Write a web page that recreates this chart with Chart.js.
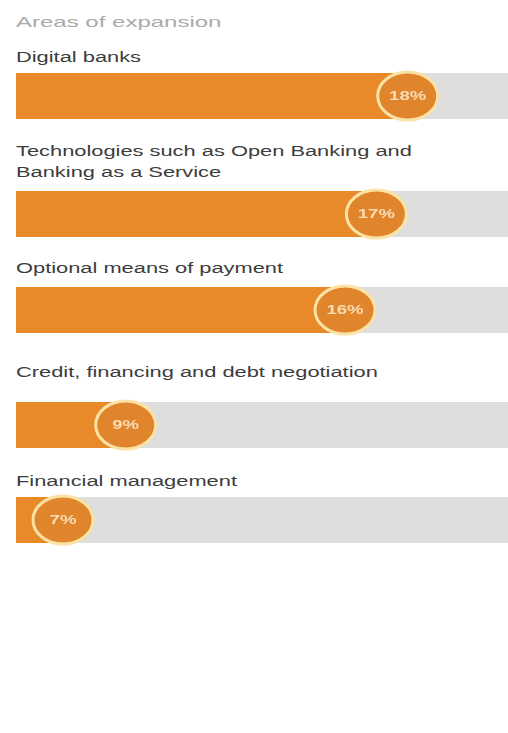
<!DOCTYPE html>
<html>
<head>
<meta charset="utf-8">
<script src="https://cdn.jsdelivr.net/npm/chart.js@4/dist/chart.umd.min.js"></script>
<style>
    html, body { margin: 0; padding: 0; background: #fff; }
    body { position: relative; width: 508px; height: 733px; overflow: hidden; font-family: 'Liberation Sans', Arial, sans-serif; }
    .title, .label {
        position: absolute;
        left: 16px;
        white-space: nowrap;
        transform-origin: 0 0;
        line-height: 21px;
    }
    .title { font-size: 15px; color: #aaaaaa; transform: scaleX(1.6); }
    .label { font-size: 14px; color: #3c3c3c; transform: scaleX(1.56); }
    .row { position: absolute; left: 0; width: 508px; height: 60px; }
</style>
</head>
<body>
<div class="title" style="top: 11px;">Areas of expansion</div>
<div id="rows"></div>

<script>
// Data
const categories = [
    ['Digital banks'],
    ['Technologies such as Open Banking and', 'Banking as a Service'],
    ['Optional means of payment'],
    ['Credit, financing and debt negotiation'],
    ['Financial management']
];
const values = [18, 17, 16, 9, 7];
const valueLabels = ['18%', '17%', '16%', '9%', '7%'];

// Layout (page px)
const labelTops = [47, 141, 258, 362, 471];
const barTops = [73, 191, 287, 402, 497];
const BAR_H = 46;
const PAD = 7;

// Shared x range so every row uses the same scale
const X_MIN = 5.5;
const X_MAX = 21.2;

const ORANGE = '#e98a2a';
const TRACK = '#dedede';
const BADGE_FILL = '#e0852c';
const BADGE_RING = '#fbe3a6';
const BADGE_TEXT = '#f9dcb4';

// Grey track behind the bar and the oval badge at its end
const badgePlugin = {
    id: 'badge',
    beforeDatasetsDraw(chart) {
        const ctx = chart.ctx;
        const bar = chart.getDatasetMeta(0).data[0];
        const { left, right } = chart.chartArea;
        ctx.save();
        ctx.fillStyle = TRACK;
        ctx.fillRect(left, bar.y - bar.height / 2, right - left, bar.height);
        ctx.restore();
    },
    afterDatasetsDraw(chart, args, opts) {
        const ctx = chart.ctx;
        const bar = chart.getDatasetMeta(0).data[0];
        ctx.save();
        ctx.beginPath();
        ctx.ellipse(bar.x, bar.y, 30, 24, 0, 0, Math.PI * 2);
        ctx.fillStyle = BADGE_FILL;
        ctx.fill();
        ctx.lineWidth = 3;
        ctx.strokeStyle = BADGE_RING;
        ctx.stroke();

        ctx.translate(bar.x, bar.y + 1);
        ctx.scale(1.55, 1);
        ctx.fillStyle = BADGE_TEXT;
        ctx.font = "bold 12px 'Liberation Sans', Arial, sans-serif";
        ctx.textAlign = 'center';
        ctx.textBaseline = 'middle';
        ctx.fillText(opts.text, 0, 0);
        ctx.restore();
    }
};

const rows = document.getElementById('rows');

categories.forEach((lines, i) => {
    // Category label above the bar
    const label = document.createElement('div');
    label.className = 'label';
    label.style.top = labelTops[i] + 'px';
    label.innerHTML = lines.join('<br>');
    rows.appendChild(label);

    // Bar canvas
    const wrap = document.createElement('div');
    wrap.className = 'row';
    wrap.style.top = (barTops[i] - PAD) + 'px';
    wrap.style.height = (BAR_H + PAD * 2) + 'px';
    const canvas = document.createElement('canvas');
    wrap.appendChild(canvas);
    rows.appendChild(wrap);

    new Chart(canvas.getContext('2d'), {
        type: 'bar',
        data: {
            labels: [lines.join(' ')],
            datasets: [{
                data: [values[i]],
                backgroundColor: ORANGE,
                borderWidth: 0,
                barPercentage: 1,
                categoryPercentage: 1
            }]
        },
        options: {
            indexAxis: 'y',
            responsive: true,
            maintainAspectRatio: false,
            animation: false,
            layout: { padding: { left: 16, right: 0, top: PAD, bottom: PAD } },
            plugins: {
                legend: { display: false },
                tooltip: { enabled: false },
                badge: { text: valueLabels[i] }
            },
            scales: {
                x: { type: 'linear', min: X_MIN, max: X_MAX, display: false },
                y: { display: false }
            }
        },
        plugins: [badgePlugin]
    });
});
</script>
</body>
</html>
